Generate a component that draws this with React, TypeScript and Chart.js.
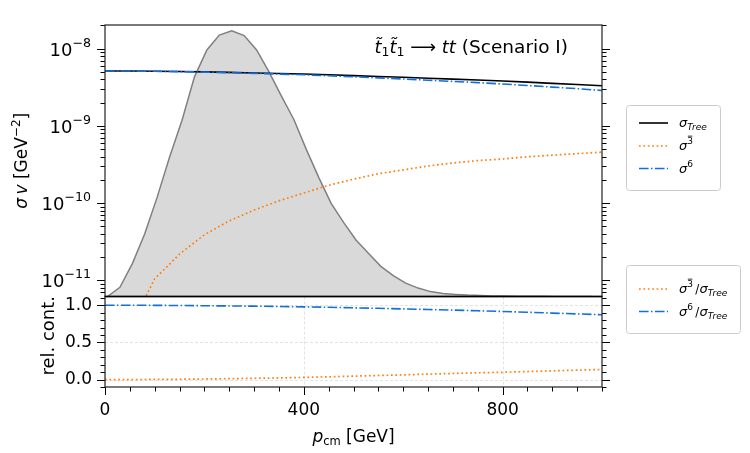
import { useEffect, useRef } from 'react';
import { Chart, registerables } from 'chart.js';

Chart.register(...registerables);

// ---------------- data ----------------
const P_GRID = [0, 50, 100, 150, 200, 250, 300, 350, 400, 450, 500, 550, 600, 650, 700, 750, 800, 850, 900, 950, 1000];
const SIGMA_TREE = [5.13e-9, 5.12e-9, 5.09e-9, 5.05e-9, 4.99e-9, 4.92e-9, 4.84e-9, 4.76e-9, 4.68e-9, 4.58e-9, 4.47e-9, 4.36e-9, 4.25e-9, 4.14e-9, 4.03e-9, 3.92e-9, 3.80e-9, 3.68e-9, 3.55e-9, 3.43e-9, 3.30e-9];
const SIGMA_6 = [5.13e-9, 5.12e-9, 5.08e-9, 5.03e-9, 4.96e-9, 4.87e-9, 4.78e-9, 4.68e-9, 4.58e-9, 4.45e-9, 4.31e-9, 4.18e-9, 4.04e-9, 3.90e-9, 3.76e-9, 3.63e-9, 3.48e-9, 3.33e-9, 3.17e-9, 3.03e-9, 2.87e-9];
const P_SIGMA3 = [75, 100, 125, 150, 200, 250, 300, 350, 400, 450, 500, 550, 600, 650, 700, 750, 800, 850, 900, 950, 1000];
const SIGMA_3 = [5.0e-12, 1.05e-11, 1.51e-11, 2.19e-11, 3.89e-11, 5.89e-11, 8.13e-11, 1.07e-10, 1.35e-10, 1.70e-10, 2.04e-10, 2.40e-10, 2.69e-10, 3.02e-10, 3.31e-10, 3.55e-10, 3.72e-10, 3.98e-10, 4.17e-10, 4.37e-10, 4.57e-10];
const RATIO_3 = [0.0, 0.0, 0.002, 0.004, 0.008, 0.012, 0.017, 0.022, 0.029, 0.037, 0.046, 0.055, 0.063, 0.073, 0.082, 0.091, 0.098, 0.108, 0.117, 0.127, 0.136];
const RATIO_6 = [1.0, 0.9995, 0.998, 0.996, 0.993, 0.990, 0.987, 0.983, 0.978, 0.972, 0.965, 0.958, 0.950, 0.942, 0.934, 0.925, 0.916, 0.905, 0.894, 0.883, 0.871];
const P_DIST = [5, 30, 55, 80, 105, 130, 155, 180, 205, 230, 255, 280, 305, 330, 355, 380, 405, 430, 455, 480, 505, 530, 555, 580, 605, 630, 655, 680, 705, 730, 755, 780, 805, 830, 855, 880, 905, 930, 955, 980];
const DIST = [0.0, 0.034, 0.121, 0.231, 0.366, 0.514, 0.649, 0.809, 0.908, 0.963, 0.979, 0.961, 0.908, 0.827, 0.738, 0.652, 0.542, 0.439, 0.343, 0.273, 0.208, 0.159, 0.111, 0.077, 0.049, 0.031, 0.018, 0.011, 0.0078, 0.0052, 0.0037, 0.0022, 0.0015, 0.001, 0.0007, 0.0005, 0.0004, 0.0003, 0.0002, 0.0002];

// ---------------- ticks ----------------
const LOG_MAJOR = [1e-11, 1e-10, 1e-9, 1e-8];
const LOG_BASE_LABEL = '10';
const LOG_EXPONENTS = ['\u221211', '\u221210', '\u22129', '\u22128'];
const LOG_DECADES = [1e-12, 1e-11, 1e-10, 1e-9, 1e-8];
const LOG_MANTISSAS = [2, 3, 4, 5, 6, 7, 8, 9];
const REL_MAJOR = [0, 0.5, 1.0];
const REL_LABELS = ['0.0', '0.5', '1.0'];
const REL_MINOR = [-0.1, 0.1, 0.2, 0.3, 0.4, 0.6, 0.7, 0.8, 0.9, 1.1];
const X_MAJOR = [0, 400, 800];
const X_LABELS = ['0', '400', '800'];
const X_MINOR = [50, 100, 150, 200, 250, 300, 350, 450, 500, 550, 600, 650, 700, 750, 850, 900, 950, 1000];

const FAMILY = '"DejaVu Sans", sans-serif';
const BLUE = '#1170e0';
const ORANGE = '#ff7f0e';

type Run = { t: string; s: number; i?: boolean; dy?: number; bar?: boolean };

const fontOf = (s: number, i?: boolean) => `${i ? 'italic ' : ''}${s}px ${FAMILY}`;

function runsWidth(ctx: CanvasRenderingContext2D, runs: Run[]) {
  let w = 0;
  for (const r of runs) {
    ctx.font = fontOf(r.s, r.i);
    w += ctx.measureText(r.t).width;
  }
  return w;
}

function drawRuns(ctx: CanvasRenderingContext2D, runs: Run[], x: number, y: number, align: 'left' | 'center' | 'right') {
  const w = runsWidth(ctx, runs);
  let cx = align === 'center' ? x - w / 2 : align === 'right' ? x - w : x;
  ctx.textAlign = 'left';
  ctx.textBaseline = 'alphabetic';
  for (const r of runs) {
    ctx.font = fontOf(r.s, r.i);
    const yy = y + (r.dy || 0);
    ctx.fillText(r.t, cx, yy);
    const rw = ctx.measureText(r.t).width;
    if (r.bar) ctx.fillRect(cx + rw * 0.1, yy - r.s * 0.92, rw * 0.8, Math.max(0.8, r.s * 0.08));
    cx += rw;
  }
}

const SIG: Run = { t: '\u03C3', s: 13, i: true };
const TREE: Run = { t: 'Tree', s: 9, i: true, dy: 3 };
const BAR3: Run = { t: '3', s: 9, dy: -6, bar: true };
const SIX: Run = { t: '6', s: 9, dy: -6 };
const SLASH: Run = { t: '\u2009/', s: 12 };

const TOP_LEGEND: { idx: number; runs: Run[] }[] = [
  { idx: 2, runs: [SIG, TREE] },
  { idx: 1, runs: [SIG, BAR3] },
  { idx: 0, runs: [SIG, SIX] },
];
const BOTTOM_LEGEND: { idx: number; runs: Run[] }[] = [
  { idx: 5, runs: [SIG, BAR3, SLASH, SIG, TREE] },
  { idx: 4, runs: [SIG, SIX, SLASH, SIG, TREE] },
];

function roundRect(ctx: CanvasRenderingContext2D, x: number, y: number, w: number, h: number, r: number) {
  ctx.beginPath();
  ctx.moveTo(x + r, y);
  ctx.lineTo(x + w - r, y);
  ctx.quadraticCurveTo(x + w, y, x + w, y + r);
  ctx.lineTo(x + w, y + h - r);
  ctx.quadraticCurveTo(x + w, y + h, x + w - r, y + h);
  ctx.lineTo(x + r, y + h);
  ctx.quadraticCurveTo(x, y + h, x, y + h - r);
  ctx.lineTo(x, y + r);
  ctx.quadraticCurveTo(x, y, x + r, y);
  ctx.closePath();
}

const decorPlugin = {
  id: 'decor',
  afterLayout(chart: any) {
    const d = chart.scales.yDist;
    const y = chart.scales.y;
    d.top = y.top;
    d.bottom = y.bottom;
    d.height = y.bottom - y.top;
    d.configure();
  },
  beforeDatasetsDraw(chart: any) {
    const ctx: CanvasRenderingContext2D = chart.ctx;
    const xs = chart.scales.x;
    const y2 = chart.scales.y2;
    ctx.save();
    ctx.strokeStyle = 'rgba(176,176,176,0.45)';
    ctx.lineWidth = 0.8;
    ctx.setLineDash([3, 2]);
    for (const v of X_MAJOR) {
      const px = Math.round(xs.getPixelForValue(v)) + 0.5;
      ctx.beginPath();
      ctx.moveTo(px, y2.top);
      ctx.lineTo(px, y2.bottom);
      ctx.stroke();
    }
    for (const v of REL_MAJOR) {
      const py = Math.round(y2.getPixelForValue(v)) + 0.5;
      ctx.beginPath();
      ctx.moveTo(xs.left, py);
      ctx.lineTo(xs.right, py);
      ctx.stroke();
    }
    ctx.restore();
  },
  afterDraw(chart: any) {
    const ctx: CanvasRenderingContext2D = chart.ctx;
    const xs = chart.scales.x;
    const ys = chart.scales.y;
    const y2 = chart.scales.y2;
    const L = xs.left;
    const R = xs.right;
    ctx.save();
    ctx.fillStyle = '#000';
    ctx.strokeStyle = '#000';
    ctx.setLineDash([]);

    const line = (x1: number, y1: number, x2: number, y2v: number) => {
      ctx.beginPath();
      ctx.moveTo(x1, y1);
      ctx.lineTo(x2, y2v);
      ctx.stroke();
    };

    // tick marks
    ctx.lineWidth = 1;
    const yTicks = (scale: any, v: number, len: number) => {
      const py = scale.getPixelForValue(v);
      if (py < scale.top - 0.6 || py > scale.bottom + 0.6) return;
      const sy = Math.round(py) + 0.5;
      line(L - len, sy, L, sy);
      line(R, sy, R + len, sy);
    };
    for (const v of LOG_MAJOR) yTicks(ys, v, 8);
    for (const d of LOG_DECADES) for (const m of LOG_MANTISSAS) yTicks(ys, d * m, 4.5);
    for (const v of REL_MAJOR) yTicks(y2, v, 8);
    for (const v of REL_MINOR) yTicks(y2, v, 4.5);
    const xTick = (v: number, len: number) => {
      const px = Math.round(xs.getPixelForValue(v)) + 0.5;
      line(px, y2.bottom, px, y2.bottom + len);
    };
    for (const v of X_MAJOR) xTick(v, 8);
    for (const v of X_MINOR) xTick(v, 4.5);

    // log tick labels (base with raised exponent)
    LOG_MAJOR.forEach((v, i) => {
      const py = ys.getPixelForValue(v);
      drawRuns(ctx, [
        { t: LOG_BASE_LABEL, s: 18 },
        { t: LOG_EXPONENTS[i], s: 12.6, dy: -9 },
      ], L - 14, py + 7, 'right');
    });

    // frames
    ctx.strokeStyle = '#222';
    ctx.lineWidth = 1.2;
    ctx.strokeRect(L, ys.top, R - L, ys.bottom - ys.top);
    ctx.strokeRect(L, y2.top, R - L, y2.bottom - y2.top);
    ctx.strokeStyle = '#000';
    ctx.lineWidth = 1.6;
    line(L, ys.bottom, R, ys.bottom);

    // axis titles
    ctx.fillStyle = '#000';
    ctx.save();
    ctx.translate(27, (ys.top + ys.bottom) / 2);
    ctx.rotate(-Math.PI / 2);
    drawRuns(ctx, [
      { t: '\u03C3', s: 17, i: true },
      { t: '\u2009', s: 17 },
      { t: 'v', s: 17, i: true },
      { t: ' [GeV', s: 17 },
      { t: '\u22122', s: 12, dy: -7 },
      { t: ']', s: 17 },
    ], 0, 0, 'center');
    ctx.restore();

    ctx.save();
    ctx.translate(54, (y2.top + y2.bottom) / 2 - 6);
    ctx.rotate(-Math.PI / 2);
    drawRuns(ctx, [{ t: 'rel. cont.', s: 18 }], 0, 0, 'center');
    ctx.restore();

    drawRuns(ctx, [
      { t: 'p', s: 17, i: true },
      { t: 'cm', s: 11.5, dy: 3 },
      { t: ' [GeV]', s: 17 },
    ], (L + R) / 2, 442, 'center');

    // annotation
    drawRuns(ctx, [
      { t: 't\u0303', s: 18, i: true },
      { t: '1', s: 12.5, dy: 3 },
      { t: 't\u0303', s: 18, i: true },
      { t: '1', s: 12.5, dy: 3 },
      { t: ' \u27F6 ', s: 18 },
      { t: 'tt', s: 18, i: true },
      { t: ' (Scenario I)', s: 18.5 },
    ], 568, 53, 'right');

    // legends
    const drawLegend = (bx: number, by: number, bw: number, bh: number, rows: { idx: number; runs: Run[] }[], rowY: number[]) => {
      roundRect(ctx, bx + 0.5, by + 0.5, bw, bh, 3);
      ctx.fillStyle = 'rgba(255,255,255,0.8)';
      ctx.fill();
      ctx.strokeStyle = '#cccccc';
      ctx.lineWidth = 1;
      ctx.setLineDash([]);
      ctx.stroke();
      rows.forEach((row, k) => {
        const ds = chart.data.datasets[row.idx];
        ctx.save();
        ctx.strokeStyle = ds.borderColor;
        ctx.lineWidth = ds.borderWidth;
        ctx.setLineDash(ds.borderDash || []);
        ctx.lineCap = 'butt';
        line(639, rowY[k], 668, rowY[k]);
        ctx.restore();
        ctx.fillStyle = '#000';
        drawRuns(ctx, row.runs, 679, rowY[k] + 4, 'left');
      });
    };
    drawLegend(626, 105, 94, 85, TOP_LEGEND, [123, 146, 168.5]);
    drawLegend(626, 265, 114, 68, BOTTOM_LEGEND, [289, 311.5]);

    ctx.restore();
  },
};

export default function App() {
  const ref = useRef<HTMLCanvasElement | null>(null);

  useEffect(() => {
    const canvas = ref.current;
    if (!canvas) return;
    Chart.defaults.font.family = FAMILY;
    Chart.defaults.color = '#000';

    const pts = (xs: number[], ys: number[]) => xs.map((x, i) => ({ x, y: ys[i] }));

    const chart = new Chart(canvas, {
      type: 'line',
      data: {
        datasets: [
          { label: 'sigma6', data: pts(P_GRID, SIGMA_6), borderColor: BLUE, borderWidth: 1.6, borderDash: [9.6, 2.4, 1.5, 2.4], pointRadius: 0, yAxisID: 'y', order: 0 },
          { label: 'sigma3', data: pts(P_SIGMA3, SIGMA_3), borderColor: ORANGE, borderWidth: 1.7, borderDash: [1.7, 2.7], pointRadius: 0, yAxisID: 'y', order: 1 },
          { label: 'sigmaTree', data: pts(P_GRID, SIGMA_TREE), borderColor: '#000', borderWidth: 1.6, pointRadius: 0, yAxisID: 'y', order: 2 },
          { label: 'dist', data: pts(P_DIST, DIST), borderColor: '#808080', borderWidth: 1.5, backgroundColor: 'rgba(128,128,128,0.3)', fill: 'origin', pointRadius: 0, yAxisID: 'yDist', order: 3 },
          { label: 'ratio6', data: pts(P_GRID, RATIO_6), borderColor: BLUE, borderWidth: 1.6, borderDash: [9.6, 2.4, 1.5, 2.4], pointRadius: 0, yAxisID: 'y2', order: 0 },
          { label: 'ratio3', data: pts(P_GRID, RATIO_3), borderColor: ORANGE, borderWidth: 1.7, borderDash: [1.7, 2.7], pointRadius: 0, yAxisID: 'y2', order: 1 },
        ] as any,
      },
      options: {
        responsive: false,
        animation: false,
        events: [],
        layout: { padding: { left: 0, right: 148, top: 25, bottom: 0 } },
        plugins: { legend: { display: false }, tooltip: { enabled: false } },
        elements: { line: { tension: 0, borderCapStyle: 'butt' } },
        scales: {
          x: {
            type: 'linear',
            position: 'bottom',
            min: 0,
            max: 1000,
            afterBuildTicks: (s: any) => { s.ticks = X_MAJOR.map((v) => ({ value: v })); },
            afterFit: (s: any) => { s.height = 66; },
            ticks: { font: { size: 17 }, color: '#000', padding: 5, maxRotation: 0, autoSkip: false, callback: (_v: any, i: number) => X_LABELS[i] },
            grid: { display: false, drawTicks: true, tickLength: 8 },
            border: { display: false },
          },
          y2: {
            type: 'linear',
            position: 'left',
            stack: 'panels',
            stackWeight: 1,
            min: -0.1,
            max: 1.117,
            afterBuildTicks: (s: any) => { s.ticks = REL_MAJOR.map((v) => ({ value: v })); },
            afterFit: (s: any) => { s.width = 105; },
            ticks: { font: { size: 17 }, color: '#000', padding: 5, autoSkip: false, callback: (_v: any, i: number) => REL_LABELS[i] },
            grid: { display: false, drawTicks: true, tickLength: 8 },
            border: { display: false },
          },
          y: {
            type: 'logarithmic',
            position: 'left',
            stack: 'panels',
            stackWeight: 3,
            min: 6.18e-12,
            max: 2.02e-8,
            afterBuildTicks: (s: any) => { s.ticks = LOG_MAJOR.map((v) => ({ value: v })); },
            afterFit: (s: any) => { s.width = 105; },
            ticks: { display: false },
            grid: { display: false, drawTicks: true, tickLength: 8 },
            border: { display: false },
          },
          yDist: {
            type: 'linear',
            position: 'left',
            display: false,
            min: 0,
            max: 1,
          },
        },
      } as any,
      plugins: [decorPlugin],
    });
    return () => chart.destroy();
  }, []);

  return (
    <div style={{ position: 'absolute', left: 0, top: 0, width: 750, height: 453, background: '#fff' }}>
      <canvas ref={ref} width={750} height={453} style={{ display: 'block', width: 750, height: 453 }} />
    </div>
  );
}
